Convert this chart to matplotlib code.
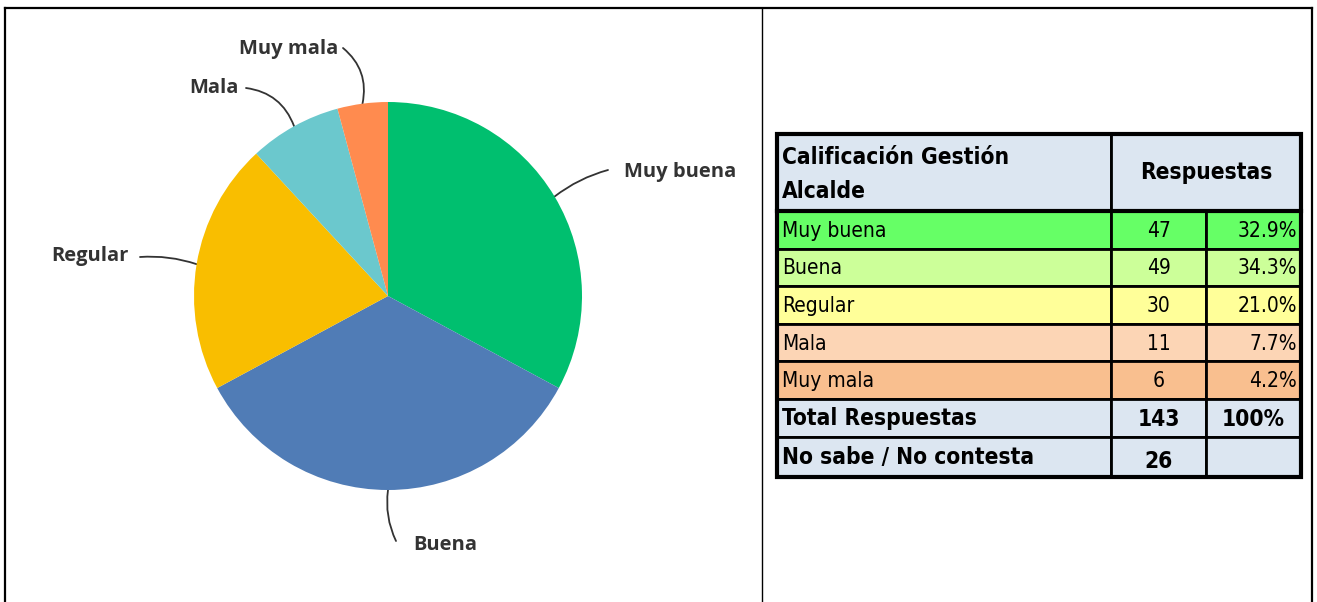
import matplotlib.pyplot as plt
from matplotlib.patches import Rectangle
from matplotlib import font_manager
import numpy as np

# datos
categorias = ['Muy buena', 'Buena', 'Regular', 'Mala', 'Muy mala']
respuestas = [47, 49, 30, 11, 6]
porcentajes = ['32.9%', '34.3%', '21.0%', '7.7%', '4.2%']
total_respuestas = 143
no_sabe = 26

colores_pie = ['#00BF6F', '#507CB6', '#F9BE00', '#6BC8CD', '#FF8B4F']
colores_tabla = ['#66FF66', '#CCFF99', '#FFFF99', '#FCD5B5', '#F9BF8F']
color_cabecera = '#DCE6F1'

# fuente estrecha para la tabla (si existe)
nombres = {(f.name, f.stretch) for f in font_manager.fontManager.ttflist}
if any(n == 'Liberation Sans Narrow' for n, s in nombres):
    fn = dict(family=['Liberation Sans Narrow', 'DejaVu Sans'])
elif any(n == 'DejaVu Sans' and s != 'normal' for n, s in nombres):
    fn = dict(family=['DejaVu Sans'], stretch='condensed')
else:
    fn = dict(family=['Lato', 'DejaVu Sans'])

fig = plt.figure(figsize=(13.17, 6.02), dpi=100)

# capa de fondo en pixeles
bg = fig.add_axes([0, 0, 1, 1])
bg.set_xlim(0, 1317)
bg.set_ylim(602, 0)
bg.axis('off')

# marco exterior
bg.plot([5, 1312], [8, 8], color='black', lw=1.6)
bg.plot([5, 5], [8, 602], color='black', lw=1.6)
bg.plot([1312, 1312], [8, 602], color='black', lw=1.6)
bg.plot([762, 762], [8, 602], color='black', lw=1.0)

# pie
cx, cy, r = 388, 296, 194
ax = fig.add_axes([(cx - r) / 1317, 1 - (cy + r) / 602, 2 * r / 1317, 2 * r / 602])
wedges, _ = ax.pie(respuestas, colors=colores_pie, startangle=90, counterclock=False,
                   radius=1, wedgeprops=dict(linewidth=0))
ax.set_xlim(-1, 1)
ax.set_ylim(-1, 1)
ax.axis('off')

# etiquetas con lineas guia (posicion del texto en pixeles)
etiquetas = {
    'Muy buena': ((624, 172), 'left', (608, 170), 0.1),
    'Buena': ((413, 545), 'left', (396, 541), -0.15),
    'Regular': ((129, 256), 'right', (140, 257), -0.1),
    'Mala': ((239, 88), 'right', (246, 88), -0.3),
    'Muy mala': ((338, 49), 'right', (343, 48), -0.3),
}
font_pie = dict(family=['Open Sans', 'DejaVu Sans'], weight='bold', size=14.5, color='#333333')
for w, cat in zip(wedges, categorias):
    ang = np.deg2rad((w.theta1 + w.theta2) / 2)
    px = cx + r * np.cos(ang)
    py = cy - r * np.sin(ang)
    (tx, ty), ha, (lx, ly), rad = etiquetas[cat]
    bg.text(tx, ty, cat, ha=ha, va='center', **font_pie)
    bg.annotate('', xy=(px, py), xytext=(lx, ly),
                arrowprops=dict(arrowstyle='-', color='#333333', lw=1.3,
                                connectionstyle=f'arc3,rad={rad}',
                                shrinkA=0, shrinkB=0))

# tabla
x0, x1, x2, x3 = 777, 1111, 1206, 1301
filas = [134, 211, 249, 286, 324, 361, 399, 437, 477]
lw_in = 2.0
tam_neg = 16.3
tam_nor = 15

# cabecera
bg.add_patch(Rectangle((x0, filas[0]), x1 - x0, filas[1] - filas[0], fc=color_cabecera, ec='black', lw=lw_in))
bg.add_patch(Rectangle((x1, filas[0]), x3 - x1, filas[1] - filas[0], fc=color_cabecera, ec='black', lw=lw_in))
bg.text(782, 157, 'Calificación Gestión', ha='left', va='center', weight='bold', size=tam_neg, **fn)
bg.text(782, 191, 'Alcalde', ha='left', va='center', weight='bold', size=tam_neg, **fn)
bg.text((x1 + x3) / 2, 172, 'Respuestas', ha='center', va='center', weight='bold', size=tam_neg, **fn)

for i, (cat, n, p, c) in enumerate(zip(categorias, respuestas, porcentajes, colores_tabla)):
    ya, yb = filas[i + 1], filas[i + 2]
    for xa, xb in [(x0, x1), (x1, x2), (x2, x3)]:
        bg.add_patch(Rectangle((xa, ya), xb - xa, yb - ya, fc=c, ec='black', lw=lw_in))
    ym = (ya + yb) / 2 + 1
    bg.text(782, ym, cat, ha='left', va='center', size=tam_nor, **fn)
    bg.text((x1 + x2) / 2, ym, str(n), ha='center', va='center', size=tam_nor, **fn)
    bg.text(x3 - 4, ym, p, ha='right', va='center', size=tam_nor, **fn)

# totales
finales = [('Total Respuestas', str(total_respuestas), '100%'),
           ('No sabe / No contesta', str(no_sabe), '')]
for j, (lab, n, p) in enumerate(finales):
    ya, yb = filas[6 + j], filas[7 + j]
    for xa, xb in [(x0, x1), (x1, x2), (x2, x3)]:
        bg.add_patch(Rectangle((xa, ya), xb - xa, yb - ya, fc=color_cabecera, ec='black', lw=lw_in))
    ym = (ya + yb) / 2 + 1
    bg.text(782, ym, lab, ha='left', va='center', weight='bold', size=tam_neg, **fn)
    bg.text((x1 + x2) / 2, ym + 3 * j, n, ha='center', va='center', weight='bold', size=tam_neg, **fn)
    if p:
        bg.text((x2 + x3) / 2, ym, p, ha='center', va='center', weight='bold', size=tam_neg, **fn)

# borde exterior de la tabla
bg.add_patch(Rectangle((x0, filas[0]), x3 - x0, filas[-1] - filas[0], fc='none', ec='black', lw=3))
bg.plot([x0, x3], [filas[1], filas[1]], color='black', lw=3)

fig.savefig('out.png', dpi=100)
